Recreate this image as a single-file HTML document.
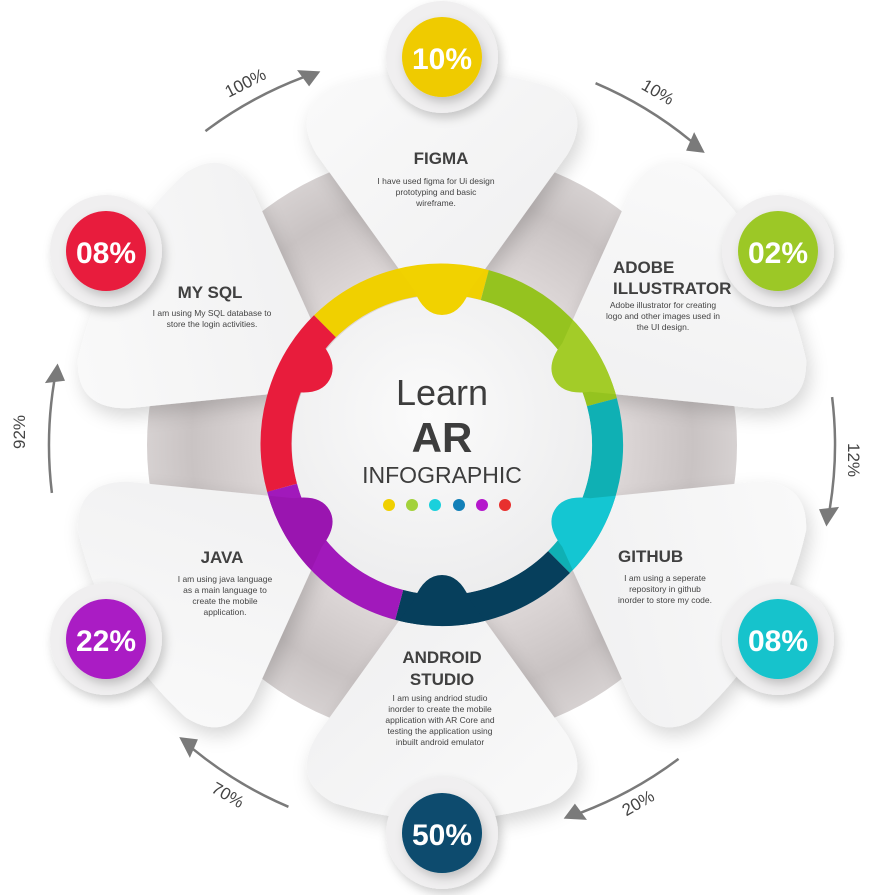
<!DOCTYPE html>
<html><head><meta charset="utf-8"><style>
html,body{margin:0;padding:0;background:#fff;}
svg{display:block;}
text{font-family:"Liberation Sans","DejaVu Sans",sans-serif;}
</style></head><body>
<svg width="882" height="895" viewBox="0 0 882 895" xmlns="http://www.w3.org/2000/svg">
<defs>
  <filter id="sh" x="-30%" y="-30%" width="160%" height="160%">
    <feDropShadow dx="4" dy="8" stdDeviation="9" flood-color="#000" flood-opacity="0.16"/>
  </filter>
  <filter id="sh2" x="-30%" y="-30%" width="160%" height="160%">
    <feDropShadow dx="3" dy="5" stdDeviation="5" flood-color="#000" flood-opacity="0.2"/>
  </filter>
  <radialGradient id="gbg" cx="0.5" cy="0.5" r="0.5">
    <stop offset="0.6" stop-color="#ddd7d7"/>
    <stop offset="0.85" stop-color="#c9c3c3"/>
    <stop offset="1" stop-color="#d6d1d1"/>
  </radialGradient>
  <linearGradient id="gp" x1="0" y1="0" x2="1" y2="1">
    <stop offset="0" stop-color="#fafafa"/><stop offset="1" stop-color="#eeeeef"/>
  </linearGradient>
  <radialGradient id="gin" cx="0.45" cy="0.4" r="0.6">
    <stop offset="0" stop-color="#fbfbfb"/><stop offset="1" stop-color="#ededee"/>
  </radialGradient>
  <path id="petal" d="M -28,-155 Q -18,-130 0,-130 Q 18,-130 28,-155 L 125,-290 Q 152,-335 108,-358 Q 0,-392 -108,-358 Q -152,-335 -125,-290 Z"/>
  <clipPath id="ringclip"><circle cx="442" cy="445" r="181"/></clipPath>
  <g id="arr">
    <path d="M -61.5,-388.2 A 393 393 0 0 1 50,-389.8" fill="none" stroke="#7a7a7a" stroke-width="2.5"/>
    <polygon points="68,-387 48,-399 51,-379" fill="#7a7a7a"/>
  </g>
</defs>

<circle cx="442" cy="445" r="295" fill="url(#gbg)"/>

<g transform="translate(442,445)" filter="url(#sh)" fill="url(#gp)">
  <use href="#petal" transform="rotate(0)"/>
  <use href="#petal" transform="rotate(60)"/>
  <use href="#petal" transform="rotate(120)"/>
  <use href="#petal" transform="rotate(180)"/>
  <use href="#petal" transform="rotate(240)"/>
  <use href="#petal" transform="rotate(300)"/>
</g>

<g fill="none" stroke-width="31">
  <path d="M 324.9,326.3 A 165.5 165.5 0 0 1 484.8,285.1" stroke="#f0d000"/>
  <path d="M 484.8,285.1 A 165.5 165.5 0 0 1 601.9,402.2" stroke="#95c31f"/>
  <path d="M 601.9,402.2 A 165.5 165.5 0 0 1 559.0,562.0" stroke="#0fb0b4"/>
  <path d="M 559.0,562.0 A 165.5 165.5 0 0 1 399.2,604.9" stroke="#063f5c"/>
  <path d="M 399.2,604.9 A 165.5 165.5 0 0 1 282.1,487.8" stroke="#a119bb"/>
  <path d="M 282.1,487.8 A 165.5 165.5 0 0 1 324.9,326.3" stroke="#e81c3c"/>
</g>

<circle cx="442" cy="445" r="150" fill="url(#gin)"/>

<g clip-path="url(#ringclip)">
  <g transform="translate(442,445)">
    <use href="#petal" transform="rotate(0)" fill="#f1d200"/>
    <use href="#petal" transform="rotate(60)" fill="#a3cc28"/>
    <use href="#petal" transform="rotate(120)" fill="#14c6d2"/>
    <use href="#petal" transform="rotate(180)" fill="#063f5c"/>
    <use href="#petal" transform="rotate(240)" fill="#9a15b0"/>
    <use href="#petal" transform="rotate(300)" fill="#e81c3c"/>
  </g>
</g>

<text x="442" y="405" text-anchor="middle" font-size="36" fill="#3d3d3d">Learn</text>
<text x="442" y="452" text-anchor="middle" font-size="42" font-weight="bold" fill="#3d3d3d">AR</text>
<text x="442" y="483" text-anchor="middle" font-size="23" fill="#3d3d3d">INFOGRAPHIC</text>
<g>
  <circle cx="389" cy="505" r="6" fill="#f0d000"/>
  <circle cx="412" cy="505" r="6" fill="#a3d23a"/>
  <circle cx="435" cy="505" r="6" fill="#1ad0dc"/>
  <circle cx="459" cy="505" r="6" fill="#1380b8"/>
  <circle cx="482" cy="505" r="6" fill="#b517cc"/>
  <circle cx="505" cy="505" r="6" fill="#e8302e"/>
</g>

<g>
  <circle cx="442" cy="57" r="56" fill="#f0eff0" filter="url(#sh2)"/>
  <circle cx="442" cy="57" r="40" fill="#efcb00" filter="url(#sh2)"/>
  <text x="442" y="69" text-anchor="middle" font-size="30" font-weight="bold" fill="#fff">10%</text>

  <circle cx="778" cy="251" r="56" fill="#f0eff0" filter="url(#sh2)"/>
  <circle cx="778" cy="251" r="40" fill="#9cc825" filter="url(#sh2)"/>
  <text x="778" y="263" text-anchor="middle" font-size="30" font-weight="bold" fill="#fff">02%</text>

  <circle cx="778" cy="639" r="56" fill="#f0eff0" filter="url(#sh2)"/>
  <circle cx="778" cy="639" r="40" fill="#12c3cc" filter="url(#sh2)"/>
  <text x="778" y="651" text-anchor="middle" font-size="30" font-weight="bold" fill="#fff">08%</text>

  <circle cx="442" cy="833" r="56" fill="#f0eff0" filter="url(#sh2)"/>
  <circle cx="442" cy="833" r="40" fill="#074b6e" filter="url(#sh2)"/>
  <text x="442" y="845" text-anchor="middle" font-size="30" font-weight="bold" fill="#fff">50%</text>

  <circle cx="106" cy="639" r="56" fill="#f0eff0" filter="url(#sh2)"/>
  <circle cx="106" cy="639" r="40" fill="#aa1bc4" filter="url(#sh2)"/>
  <text x="106" y="651" text-anchor="middle" font-size="30" font-weight="bold" fill="#fff">22%</text>

  <circle cx="106" cy="251" r="56" fill="#f0eff0" filter="url(#sh2)"/>
  <circle cx="106" cy="251" r="40" fill="#e81a3c" filter="url(#sh2)"/>
  <text x="106" y="263" text-anchor="middle" font-size="30" font-weight="bold" fill="#fff">08%</text>
</g>

<g fill="#404040" font-weight="bold" font-size="17">
  <text x="441" y="164" text-anchor="middle">FIGMA</text>
  <text x="613" y="273">ADOBE</text>
  <text x="613" y="294">ILLUSTRATOR</text>
  <text x="618" y="562">GITHUB</text>
  <text x="442" y="663" text-anchor="middle">ANDROID</text>
  <text x="442" y="685" text-anchor="middle">STUDIO</text>
  <text x="222" y="563" text-anchor="middle">JAVA</text>
  <text x="210" y="298" text-anchor="middle">MY SQL</text>
</g>
<g fill="#444" font-size="8.5" text-anchor="middle">
  <text x="436" y="184">I have used figma for  Ui design</text>
  <text x="436" y="195">prototyping and basic</text>
  <text x="436" y="206">wireframe.</text>
  <text x="663" y="308">Adobe illustrator for creating</text>
  <text x="663" y="319">logo and other images used in</text>
  <text x="663" y="330">the UI design.</text>
  <text x="665" y="581">I am using a seperate</text>
  <text x="665" y="592">repository in github</text>
  <text x="665" y="603">inorder to store my code.</text>
  <text x="440" y="701">I am using  andriod studio</text>
  <text x="440" y="712">inorder to create the mobile</text>
  <text x="440" y="723">application with AR Core and</text>
  <text x="440" y="734">testing  the application using</text>
  <text x="440" y="745">inbuilt android emulator</text>
  <text x="225" y="582">I am using java language</text>
  <text x="225" y="593">as a main language to</text>
  <text x="225" y="604">create the mobile</text>
  <text x="225" y="615">application.</text>
  <text x="212" y="316">I am using My SQL database to</text>
  <text x="212" y="327">store the login activities.</text>
</g>

<g transform="translate(442,445)">
  <use href="#arr" transform="rotate(-28)"/>
  <use href="#arr" transform="rotate(32)"/>
  <use href="#arr" transform="rotate(92)"/>
  <use href="#arr" transform="rotate(152)"/>
  <use href="#arr" transform="rotate(212)"/>
  <use href="#arr" transform="rotate(272)"/>
</g>
<g fill="#444" font-size="17" text-anchor="middle">
  <text transform="translate(248,88) rotate(-27)">100%</text>
  <text transform="translate(655,97) rotate(30)">10%</text>
  <text transform="translate(848,460) rotate(90)">12%</text>
  <text transform="translate(641,808) rotate(-30)">20%</text>
  <text transform="translate(225,800) rotate(30)">70%</text>
  <text transform="translate(25,432) rotate(-90)">92%</text>
</g>
</svg>
</body></html>
